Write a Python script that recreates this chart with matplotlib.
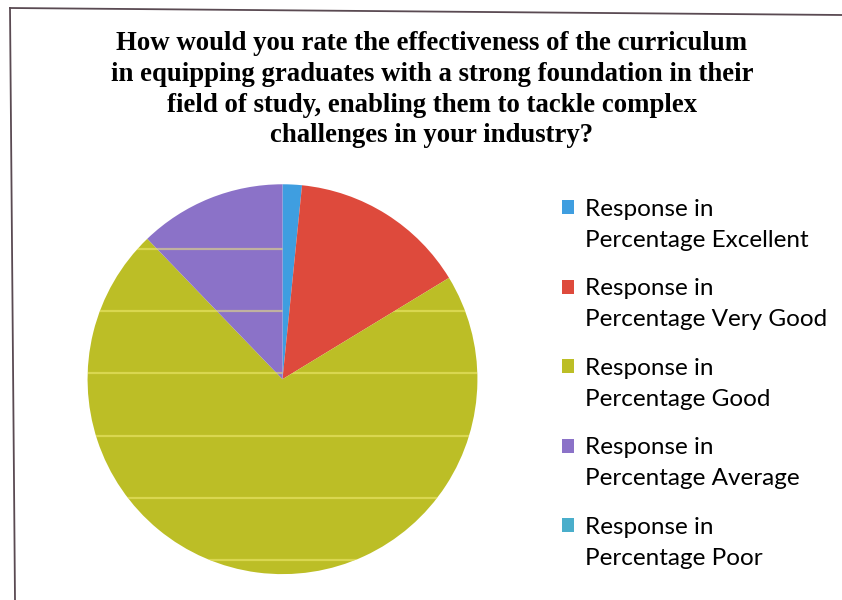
import matplotlib.pyplot as plt
from matplotlib.lines import Line2D

# Data (percent of responses)
categories = ['Excellent', 'Very Good', 'Good', 'Average', 'Poor']
values = [1.6, 14.7, 71.5, 12.2, 0.0]
colors = ['#3f9ee0', '#de4a3c', '#bcbe26', '#8b72c8', '#4aaecb']
labels = ['Response in\nPercentage ' + c for c in categories]

title = ('How would you rate the effectiveness of the curriculum\n'
         'in equipping graduates with a strong foundation in their\n'
         'field of study, enabling them to tackle complex\n'
         'challenges in your industry?')

fig = plt.figure(figsize=(8.42, 6.0), dpi=100)
fig.patch.set_facecolor('white')

# Pie
ax = fig.add_axes([0.104, 0.043, 0.463, 0.65])
wedges, _ = ax.pie(values, colors=colors, startangle=90, counterclock=False,
                   radius=1.0, wedgeprops=dict(linewidth=0))
ax.set_xlim(-1.0, 1.0)
ax.set_ylim(-1.0, 1.0)
ax.set_aspect('equal')
ax.axis('off')

# faint horizontal streaks across the pie (as seen in the scan)
for y in [0.67, 0.35, 0.03, -0.29, -0.61, -0.93]:
    for w in wedges[2:4]:
        ln = ax.axhline(y, color='#f6f07a', lw=1.6, alpha=0.5)
        ln.set_clip_path(w)

# Title
fig.text(0.513, 0.948, title, ha='center', va='top', fontsize=19.3,
         fontweight='bold', family='Liberation Serif', linespacing=1.3)

# Legend
fs = 17.5
leg = fig.legend(wedges, labels, loc='upper left',
                 bbox_to_anchor=(0.641, 0.705),
                 frameon=False, prop={'family': 'Lato', 'size': fs},
                 handlelength=0.5, handleheight=0.5, handletextpad=0.45,
                 labelspacing=1.12)
for t in leg.get_texts():
    t.set_linespacing(1.6)
# squares sit on the first text line, not in the middle of the two lines
for h in leg.legend_handles:
    h.set_y(h.get_y() + 0.72 * fs)

# scanned page border
fig.add_artist(Line2D([10 / 842, 1.0], [1 - 8 / 600, 1 - 15 / 600],
                      transform=fig.transFigure, color='#5a4a52', lw=1.3))
fig.add_artist(Line2D([10 / 842, 15 / 842], [1 - 8 / 600, 0.0],
                      transform=fig.transFigure, color='#5a4a52', lw=1.3))

fig.savefig('out.png', dpi=100)
